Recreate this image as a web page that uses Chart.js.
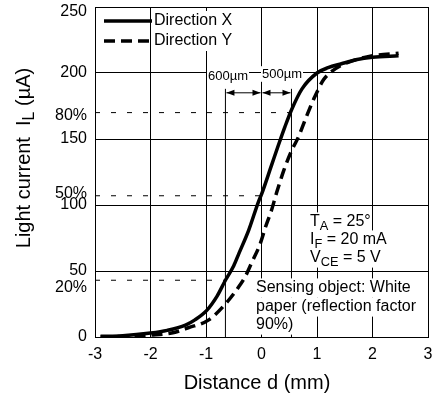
<!DOCTYPE html>
<html>
<head>
<meta charset="utf-8">
<script src="https://cdn.jsdelivr.net/npm/chart.js@4.4.1/dist/chart.umd.min.js"></script>
<style>
  body { margin: 0; background: #fff; }
</style>
</head>
<body>
<canvas id="grafico" width="438" height="399"></canvas>
<script>
// Dados (distância em mm, corrente em µA)
const distanciaX = [-2.9, -2.5, -2.0, -1.7, -1.37, -1.2, -0.99, -0.8, -0.65, -0.5, -0.41, -0.23, -0.05, 0.0, 0.18, 0.31, 0.42, 0.54, 0.73, 1.0, 1.2, 1.44, 1.7, 2.0, 2.47];
const correnteX = [0.5, 1, 3, 5, 9, 13, 20, 31, 43, 54, 63, 81, 103, 108, 130, 146, 159, 172, 188, 200, 204, 207, 210, 212, 213];

const distanciaY = [-2.9, -2.5, -2.0, -1.62, -1.32, -0.95, -0.63, -0.41, -0.29, -0.18, -0.02, 0.07, 0.18, 0.27, 0.40, 0.53, 0.67, 0.81, 0.96, 1.12, 1.26, 1.5, 2.0, 2.47];
const correnteY = [0, 0.5, 1.5, 3, 7, 13, 26, 38, 46, 56, 71, 83, 96, 109, 126, 140, 152, 167, 182, 195, 201, 207, 213, 215];

const nomesSeries = ['Direction X', 'Direction Y'];

// Eixos
const ticksX = [-3, -2, -1, 0, 1, 2, 3];
const ticksY = [0, 50, 100, 150, 200, 250];

// Níveis percentuais (20%, 50%, 80% do máximo) e onde as linhas tracejadas terminam
const rotulosPct = ['20%', '50%', '80%'];
const niveisPct = [43, 107, 170];
const fimPct = [-0.65, 0, 0.54];

// Marcas verticais e cotas
const marcas = [-0.65, 0, 0.54];
const alturaMarcas = 188;
const alturaSeta = 185;
const rotulosCota = ['600\u00b5m', '500\u00b5m'];

const fonte = '"Liberation Sans", Arial, sans-serif';
Chart.defaults.font.family = fonte;
Chart.defaults.color = '#000';

function pontos(xs, ys) {
    return xs.map(function(x, i) { return { x: x, y: ys[i] }; });
}

const datasets = [
    {
        label: nomesSeries[0],
        data: pontos(distanciaX, correnteX),
        borderColor: '#000',
        borderWidth: 3.5,
        pointRadius: 0,
        cubicInterpolationMode: 'monotone'
    },
    {
        label: nomesSeries[1],
        data: pontos(distanciaY, correnteY),
        borderColor: '#000',
        borderWidth: 3.5,
        borderDash: [11, 6],
        pointRadius: 0,
        cubicInterpolationMode: 'monotone'
    }
];

// Linhas tracejadas dos percentuais
niveisPct.forEach(function(nivel, i) {
    datasets.push({
        label: 'pct' + i,
        data: [{ x: ticksX[0], y: nivel }, { x: fimPct[i], y: nivel }],
        borderColor: '#000',
        borderWidth: 1,
        borderDash: [5, 11],
        pointRadius: 0
    });
});

// Linhas verticais das marcas
[marcas[0], marcas[2]].forEach(function(m, i) {
    datasets.push({
        label: 'marca' + i,
        data: [{ x: m, y: 0 }, { x: m, y: alturaMarcas }],
        borderColor: '#000',
        borderWidth: 1,
        pointRadius: 0
    });
});

// Texto com subscrito: partes = [[texto, subscrito?], ...]
function larguraRica(ctx, partes, tam) {
    let w = 0;
    partes.forEach(function(p) {
        ctx.font = (p[1] ? tam * 0.8 : tam) + 'px ' + fonte;
        w += ctx.measureText(p[0]).width;
    });
    return w;
}

function textoRico(ctx, partes, x, y, tam, fundo) {
    const w = larguraRica(ctx, partes, tam);
    if (fundo) {
        ctx.fillStyle = '#fff';
        ctx.fillRect(x - 1, y - tam * 0.6, w + 2, tam * 1.2);
    }
    ctx.fillStyle = '#000';
    ctx.textBaseline = 'middle';
    ctx.textAlign = 'left';
    let cx = x;
    partes.forEach(function(p) {
        ctx.font = (p[1] ? tam * 0.8 : tam) + 'px ' + fonte;
        ctx.fillText(p[0], cx, y + (p[1] ? tam * 0.3 : 0));
        cx += ctx.measureText(p[0]).width;
    });
}

function seta(ctx, x1, x2, y) {
    ctx.beginPath();
    ctx.moveTo(x1, y);
    ctx.lineTo(x2, y);
    ctx.stroke();
    ctx.beginPath();
    ctx.moveTo(x1, y);
    ctx.lineTo(x1 + 8, y - 3);
    ctx.lineTo(x1 + 8, y + 3);
    ctx.closePath();
    ctx.fill();
    ctx.beginPath();
    ctx.moveTo(x2, y);
    ctx.lineTo(x2 - 8, y - 3);
    ctx.lineTo(x2 - 8, y + 3);
    ctx.closePath();
    ctx.fill();
}

const extras = {
    id: 'extras',
    afterDatasetsDraw(chart) {
        const ctx = chart.ctx;
        const sx = chart.scales.x;
        const sy = chart.scales.y;
        ctx.save();

        // Setas de cota
        ctx.strokeStyle = '#000';
        ctx.fillStyle = '#000';
        ctx.lineWidth = 1;
        const ys = sy.getPixelForValue(alturaSeta);
        for (let i = 0; i < marcas.length - 1; i++) {
            seta(ctx, sx.getPixelForValue(marcas[i]) + 1, sx.getPixelForValue(marcas[i + 1]) - 1, ys);
        }

        // Rótulos das cotas
        textoRico(ctx, [[rotulosCota[0]]], 208, 76, 13, true);
        textoRico(ctx, [[rotulosCota[1]]], 262, 74, 13, true);

        // Rótulos percentuais no eixo Y e o 250 do topo (um pouco abaixo da linha)
        ctx.font = '16px ' + fonte;
        ctx.fillStyle = '#000';
        ctx.textAlign = 'right';
        ctx.textBaseline = 'middle';
        const ajuste = [7, -2, 3];
        niveisPct.forEach(function(nivel, i) {
            ctx.fillText(rotulosPct[i], 87, sy.getPixelForValue(nivel) + ajuste[i]);
        });
        const topo = ticksY[ticksY.length - 1];
        ctx.fillText(String(topo), 87, sy.getPixelForValue(topo) + 5);

        // Legenda
        ctx.fillStyle = '#fff';
        ctx.fillRect(153, 11, 84, 40);
        [21, 41].forEach(function(y, i) {
            const ds = chart.data.datasets[i];
            ctx.strokeStyle = '#000';
            ctx.lineWidth = ds.borderWidth;
            ctx.setLineDash(ds.borderDash || []);
            ctx.beginPath();
            ctx.moveTo(104, y);
            ctx.lineTo(152, y);
            ctx.stroke();
            ctx.setLineDash([]);
            textoRico(ctx, [[ds.label]], 154, y, 16, false);
        });

        // Condições de medida
        textoRico(ctx, [['T'], ['A', true], [' = 25\u00b0']], 310, 222, 16, true);
        textoRico(ctx, [['I'], ['F', true], [' = 20 mA']], 310, 240, 16, true);
        textoRico(ctx, [['V'], ['CE', true], [' = 5 V']], 310, 258, 16, true);
        textoRico(ctx, [['Sensing object: White']], 256, 288, 16, true);
        textoRico(ctx, [['paper (reflection factor']], 256, 307, 16, true);
        textoRico(ctx, [['90%)']], 256, 325, 16, true);

        // Título do eixo X
        ctx.font = '20px ' + fonte;
        ctx.textAlign = 'center';
        ctx.textBaseline = 'middle';
        ctx.fillStyle = '#000';
        ctx.fillText('Distance d (mm)', 257, 383);

        // Título do eixo Y (girado, com subscrito)
        const partesY = [['Light current  I'], ['L', true], [' (\u00b5A)']];
        ctx.translate(24, 158);
        ctx.rotate(-Math.PI / 2);
        const w = larguraRica(ctx, partesY, 20);
        textoRico(ctx, partesY, -w / 2, 0, 20, false);

        ctx.restore();
    }
};

const ctx = document.getElementById('grafico').getContext('2d');
const grafico = new Chart(ctx, {
    type: 'line',
    data: { datasets: datasets },
    options: {
        responsive: false,
        animation: false,
        devicePixelRatio: 1,
        layout: { padding: { top: 7, right: 10, left: 0, bottom: 0 } },
        plugins: {
            legend: { display: false },
            tooltip: { enabled: false }
        },
        scales: {
            x: {
                type: 'linear',
                min: ticksX[0],
                max: ticksX[ticksX.length - 1],
                afterBuildTicks: function(scale) {
                    scale.ticks = ticksX.map(function(v) { return { value: v }; });
                },
                afterFit: function(scale) {
                    scale.height = 62;
                    scale.paddingLeft = 0;
                    scale.paddingRight = 0;
                },
                grid: { color: '#000', lineWidth: 1, drawTicks: false },
                border: { color: '#000', width: 1 },
                ticks: { font: { size: 16 }, padding: 8, color: '#000' }
            },
            y: {
                type: 'linear',
                min: ticksY[0],
                max: ticksY[ticksY.length - 1],
                afterBuildTicks: function(scale) {
                    scale.ticks = ticksY.map(function(v) { return { value: v }; });
                },
                afterFit: function(scale) {
                    scale.width = 95;
                    scale.paddingTop = 0;
                    scale.paddingBottom = 0;
                },
                grid: { color: '#000', lineWidth: 1, drawTicks: false },
                border: { color: '#000', width: 1 },
                ticks: {
                    font: { size: 16 },
                    padding: 8,
                    color: '#000',
                    // o 250 é desenhado à parte pelo plugin
                    callback: function(v) { return v === ticksY[ticksY.length - 1] ? '' : v; }
                }
            }
        }
    },
    plugins: [extras]
});
</script>
</body>
</html>
